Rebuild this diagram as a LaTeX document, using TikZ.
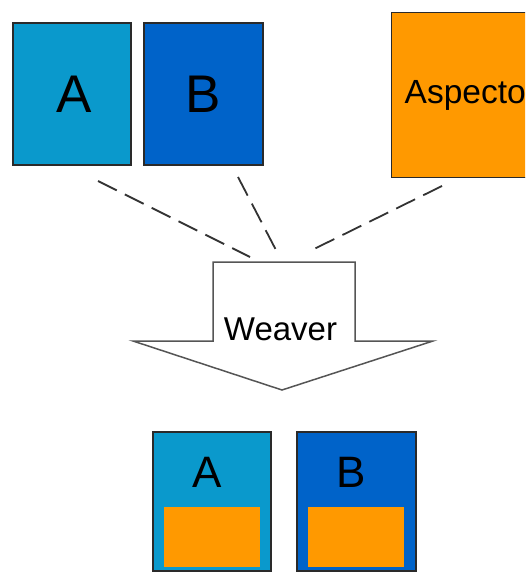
\documentclass[tikz,border=0pt]{standalone}
\usepackage{fontspec}
\setmainfont{Liberation Sans}
\usepackage{tikz}

\definecolor{classA}{HTML}{0A99CC}
\definecolor{classB}{HTML}{0063C9}
\definecolor{aspect}{HTML}{FF9900}
\definecolor{edge}{HTML}{2A2A2A}
\definecolor{weave}{HTML}{555555}

\begin{document}
\begin{tikzpicture}[x=1pt,y=-1pt]
					\useasboundingbox (0,0) rectangle (525,572);
					\clip (0,0) rectangle (525,572);
					\tikzstyle{box}=[draw=edge,line width=1.3pt,inner sep=0pt]
					\tikzstyle{letter}=[inner sep=0pt,font=\fontsize{53}{53}\selectfont]
					\tikzstyle{small letter}=[inner sep=0pt,font=\fontsize{44}{44}\selectfont]
					\tikzstyle{advice}=[fill=aspect,inner sep=0pt,minimum width=96pt,minimum height=60pt]
					\tikzstyle{weaving}=[draw=weave!60!black,line width=1.8pt,dash pattern=on 21pt off 9pt]
						% the classes and the aspect
						\path (72,94) node[box,fill=classA,minimum width=118pt,minimum height=142pt] (A) {};
						\path (74,94) node[letter] (Aname) {A};
						\path (203.5,94) node[box,fill=classB,minimum width=119pt,minimum height=142pt] (B) {};
						\path (203.5,94) node[letter] (Bname) {B};
						\path (391,12) node[box,fill=aspect,anchor=north west,minimum height=165pt,text width=140pt,inner xsep=13pt,align=left,font=\fontsize{33.5}{33.5}\selectfont] (aspector) {Aspecto};
						% the weaver arrow
						\draw[draw=weave,line width=1.5pt,fill=white,line join=miter]
							(213,262) -- (355,262) -- (355,341) -- (433,341) -- (282,390)
							-- (133,341) -- (213,341) -- cycle;
						\path (280.5,329) node[inner sep=0pt,font=\fontsize{33}{33}\selectfont] (weaver) {Weaver};
						% dashed lines into the weaver
						\coordinate (fromA) at (98,181);
						\coordinate (intoA) at (250,257);
						\coordinate (fromB) at (238,177);
						\coordinate (intoB) at (277,252);
						\coordinate (fromAsp) at (442,186);
						\coordinate (intoAsp) at (312,250);
						\draw[weaving] (fromA) -- (intoA);
						\draw[weaving] (fromB) -- (intoB);
						\draw[weaving] (fromAsp) -- (intoAsp);
						% the woven classes
						\path (212,501.5) node[box,fill=classA,minimum width=118pt,minimum height=139pt] (wovenA) {};
						\path (207,472.5) node[small letter] (wovenAname) {A};
						\path (212,537) node[advice] (adviceA) {};
						\path (356.5,501.5) node[box,fill=classB,minimum width=119pt,minimum height=139pt] (wovenB) {};
						\path (351,472.5) node[small letter] (wovenBname) {B};
						\path (356,537) node[advice] (adviceB) {};
					\end{tikzpicture}
\end{document}
